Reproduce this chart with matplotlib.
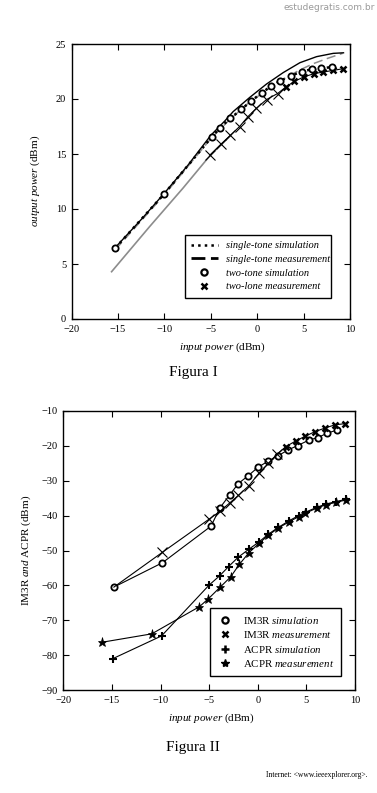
import matplotlib
matplotlib.use("Agg")
import matplotlib.pyplot as plt

plt.rcParams['font.family'] = ['Liberation Serif', 'DejaVu Serif']
plt.rcParams['mathtext.fontset'] = 'custom'
plt.rcParams['mathtext.rm'] = 'Liberation Serif'
plt.rcParams['mathtext.it'] = 'Liberation Serif:italic'

# --- Figura I: output power vs input power ---
upper_x = [-15.3, -12.5, -10, -7.5, -5, -3.5, -2.6, -0.8, 1.0, 2.8, 4.6, 6.4, 8.2, 9.3]
upper_y = [6.5, 9.05, 11.45, 13.95, 16.7, 18.0, 18.85, 20.15, 21.36, 22.4, 23.3, 23.85, 24.15, 24.2]

single_sim_x = [-15.3, -10, -4.9, -4.0, -2.9, -1.7, -0.7, 0.5, 1.5, 2.5, 3.6, 4.8, 5.9, 6.9, 8.1]
single_sim_y = [6.45, 11.4, 16.55, 17.4, 18.25, 19.05, 19.8, 20.55, 21.2, 21.65, 22.1, 22.5, 22.7, 22.8, 22.9]

single_meas_x = [-15.3, -10, -5, -3, -1, 1, 3, 4.5, 6, 7.6, 9.2]
single_meas_y = [6.3, 11.3, 16.4, 18.1, 19.6, 20.8, 21.9, 22.6, 23.2, 23.7, 24.15]

gray_low_x = [-15.7, -11.6, -8.0, -5.1, -3.9, -2.9]
gray_low_y = [4.3, 8.4, 11.9, 14.85, 15.85, 16.65]

two_sim_x = [-15.3, -10, -4.9, -4.0, -2.9, -1.7, -0.7, 0.5, 1.5, 2.5, 3.6, 4.8, 5.9, 6.9, 8.1]
two_sim_y = [6.45, 11.4, 16.55, 17.4, 18.25, 19.05, 19.8, 20.55, 21.2, 21.65, 22.1, 22.5, 22.7, 22.8, 22.9]

two_meas_x = [-5.1, -3.9, -2.9, -1.9, -1.0, -0.1, 1.0, 2.2, 3.1, 4.0, 5.0, 6.1, 7.1, 8.2, 9.2]
two_meas_y = [14.9, 15.9, 16.7, 17.5, 18.4, 19.15, 19.95, 20.5, 21.1, 21.6, 22.0, 22.3, 22.45, 22.6, 22.75]

# --- Figura II: IM3R and ACPR vs input power ---
im3_sim_x = [-14.8, -9.8, -4.8, -3.9, -2.9, -2.0, -1.0, 0.0, 1.1, 2.1, 3.1, 4.1, 5.3, 6.2, 7.1, 8.1]
im3_sim_y = [-60.5, -53.5, -43.0, -37.8, -34.1, -30.8, -28.6, -26.2, -24.3, -22.8, -21.2, -19.9, -18.3, -17.6, -16.4, -15.5]

im3_meas_x = [-14.8, -9.8, -5.0, -3.9, -2.9, -2.0, -0.9, 0.1, 1.1, 2.0, 2.9, 3.9, 4.9, 5.9, 6.9, 7.9, 9.0]
im3_meas_y = [-60.5, -50.5, -41.0, -38.8, -36.4, -34.2, -31.4, -27.9, -25.0, -22.3, -20.2, -18.6, -17.2, -15.9, -14.9, -14.0, -13.6]

acpr_sim_x = [-14.9, -9.9, -5.0, -3.9, -3.0, -2.0, -0.9, 0.1, 1.1, 2.1, 3.2, 4.2, 5.0, 6.1, 7.0, 8.0, 9.1]
acpr_sim_y = [-81.0, -74.5, -59.9, -57.2, -54.6, -51.9, -49.6, -47.6, -45.3, -43.4, -41.5, -40.0, -38.9, -37.6, -36.7, -36.0, -35.3]

acpr_meas_x = [-16.0, -10.9, -6.0, -5.1, -3.9, -2.8, -1.9, -0.9, 0.15, 1.1, 2.1, 3.2, 4.2, 4.9, 6.1, 7.0, 8.0, 9.1]
acpr_meas_y = [-76.3, -73.9, -66.1, -63.9, -60.6, -57.6, -54.0, -50.6, -47.9, -45.6, -43.6, -41.8, -40.3, -39.3, -37.8, -36.9, -36.2, -35.5]

W, H = 377, 793
fig = plt.figure(figsize=(W / 100, H / 100), dpi=100)


def px_axes(left, top, right, bottom):
    # caja de ejes en pixeles de la imagen
    return fig.add_axes([left / W, 1 - bottom / H, (right - left) / W, (bottom - top) / H])


def estilo(ax):
    ax.tick_params(direction='in', length=4, width=0.8, top=True, right=True,
                   labelsize=7.5, pad=4)
    for s in ax.spines.values():
        s.set_linewidth(1.0)


# ---------- Figura I ----------
ax1 = px_axes(71.7, 44, 350, 319)
ax1.plot(gray_low_x, gray_low_y, color='0.55', lw=1.2)
ax1.plot(single_meas_x, single_meas_y, color='0.55', lw=1.1, dashes=(6, 3))
ax1.plot(upper_x, upper_y, color='black', lw=1.0)
ax1.plot(single_sim_x, single_sim_y, color='black', lw=1.8, ls=':')
ax1.plot(two_meas_x, two_meas_y, color='black', lw=0.8)
ax1.plot(two_meas_x[:8], two_meas_y[:8], ls='none', marker='x', ms=7,
         mew=0.8, color='black')
ax1.plot(two_meas_x[8:], two_meas_y[8:], ls='none', marker='x', ms=4.5,
         mew=1.8, color='black')
ax1.plot(two_sim_x, two_sim_y, ls='none', marker='o', ms=4.5, mew=1.3,
         mfc='white', mec='black')

ax1.set_xlim(-20, 10)
ax1.set_ylim(0, 25)
ax1.set_xticks(range(-20, 11, 5))
ax1.set_yticks(range(0, 26, 5))
estilo(ax1)

h1 = [
    plt.Line2D([], [], color='black', lw=1.8, ls=':'),
    plt.Line2D([], [], color='black', lw=2.0, dashes=(5, 2)),
    plt.Line2D([], [], ls='none', marker='o', ms=4.5, mew=1.6, mfc='white', mec='black'),
    plt.Line2D([], [], ls='none', marker='x', ms=4.5, mew=1.8, color='black'),
]
l1 = ['single-tone simulation', 'single-tone measurement',
      'two-tone simulation', 'two-lone measurement']
leg1 = ax1.legend(h1, l1, loc='lower left', bbox_to_anchor=(0.387, 0.059, 0.565, 0.238),
                  mode='expand', fancybox=False, edgecolor='black', framealpha=1,
                  prop={'style': 'italic', 'size': 7.5}, handlelength=2.6,
                  labelspacing=0.42, borderpad=0.6, handletextpad=0.8)
leg1.get_frame().set_linewidth(1.0)

fig.text(222 / W, 1 - 347 / H, r'$\it{input\ power}$ (dBm)', ha='center', va='center', fontsize=8)
fig.text(35 / W, 1 - 181 / H, r'$\it{output\ power}$ (dBm)', ha='center', va='center',
         fontsize=8, rotation=90)
fig.text(193.5 / W, 1 - 373 / H, 'Figura I', ha='center', va='center', fontsize=11)

# ---------- Figura II ----------
ax2 = px_axes(63.3, 411, 355, 690)
ax2.plot(im3_sim_x, im3_sim_y, color='black', lw=0.8, marker='o', ms=4.5,
         mew=1.3, mfc='white', mec='black')
ax2.plot(im3_meas_x, im3_meas_y, color='black', lw=0.8)
ax2.plot(im3_meas_x[1:10], im3_meas_y[1:10], ls='none', marker='x', ms=7,
         mew=0.8, color='black')
ax2.plot(im3_meas_x[10:], im3_meas_y[10:], ls='none', marker='x', ms=4.5,
         mew=1.8, color='black')
ax2.plot(acpr_sim_x, acpr_sim_y, color='black', lw=0.8, marker='+', ms=6, mew=1.5)
ax2.plot(acpr_meas_x, acpr_meas_y, color='black', lw=0.8, marker='*', ms=6.5,
         mew=0.5, mfc='black', mec='black')

ax2.set_xlim(-20, 10)
ax2.set_ylim(-90, -10)
ax2.set_xticks(range(-20, 11, 5))
ax2.set_yticks(range(-90, -9, 10))
estilo(ax2)

h2 = [
    plt.Line2D([], [], ls='none', marker='o', ms=4.5, mew=1.6, mfc='white', mec='black'),
    plt.Line2D([], [], ls='none', marker='x', ms=4.5, mew=1.8, color='black'),
    plt.Line2D([], [], ls='none', marker='+', ms=6, mew=1.8, color='black'),
    plt.Line2D([], [], ls='none', marker='*', ms=6, color='black'),
]
l2 = [r'IM3R $\it{simulation}$', r'IM3R $\it{measurement}$',
      r'ACPR $\it{simulation}$', r'ACPR $\it{measurement}$']
leg2 = ax2.legend(h2, l2, loc='lower left', bbox_to_anchor=(0.486, 0.032, 0.486, 0.24),
                  mode='expand', fancybox=False, edgecolor='black', framealpha=1,
                  prop={'size': 7.8}, handlelength=1.5, labelspacing=0.32,
                  borderpad=0.6, handletextpad=0.9)
leg2.get_frame().set_linewidth(1.0)

fig.text(211 / W, 1 - 718 / H, r'$\it{input\ power}$ (dBm)', ha='center', va='center', fontsize=8)
fig.text(26 / W, 1 - 550 / H, r'IM3R $\it{and}$ ACPR (dBm)', ha='center', va='center',
         fontsize=8, rotation=90)
fig.text(193 / W, 1 - 748 / H, 'Figura II', ha='center', va='center', fontsize=11)
fig.text(367 / W, 1 - 775 / H, 'Internet: <www.ieeexplorer.org>.', ha='right', va='center',
         fontsize=5.5)
fig.text(375 / W, 1 - 8 / H, 'estudegratis.com.br', ha='right', va='center',
         fontsize=6.5, color='#9a9a9a', family='DejaVu Sans')

fig.savefig('out.png', dpi=100)
